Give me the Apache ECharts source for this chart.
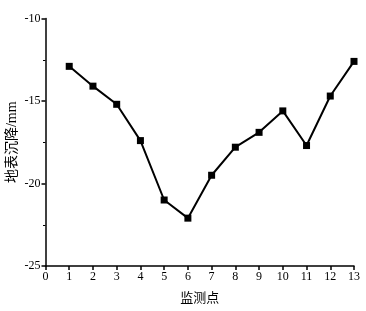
<!DOCTYPE html>
<html>
<head>
<meta charset="utf-8">
<script src="https://cdn.jsdelivr.net/npm/echarts@6/dist/echarts.min.js"></script>
<style>
  html, body { margin: 0; padding: 0; background: #fff; }
  #chart { width: 366px; height: 311px; }
</style>
</head>
<body>
<div id="chart"></div>
<script>
// 监测点编号 and measured settlement (mm)
const points = [1, 2, 3, 4, 5, 6, 7, 8, 9, 10, 11, 12, 13];
const settlement = [-12.9, -14.1, -15.2, -17.4, -21.0, -22.1, -19.5, -17.8, -16.9, -15.6, -17.7, -14.7, -12.6];

const serif = '"Liberation Serif", "Noto Sans CJK SC", serif';

const chart = echarts.init(document.getElementById('chart'));

const option = {
  backgroundColor: '#fff',
  animation: false,
  grid: { left: 45.5, right: 12, top: 18.5, bottom: 45, outerBoundsMode: 'none', containLabel: false },
  xAxis: {
    type: 'value',
    min: 0,
    max: 13,
    interval: 1,
    name: '监测点',
    nameLocation: 'middle',
    nameGap: 26,
    nameMoveOverlap: false,
    nameTextStyle: { color: '#000', fontSize: 13, fontFamily: serif },
    axisLine: { lineStyle: { color: '#000', width: 1.5 } },
    axisTick: { inside: false, length: 4, lineStyle: { color: '#000', width: 1.5 } },
    axisLabel: { color: '#000', fontSize: 12, fontFamily: serif, margin: 5 },
    splitLine: { show: false }
  },
  yAxis: {
    type: 'value',
    min: -25,
    max: -10,
    interval: 5,
    name: '地表沉降/mm',
    nameLocation: 'middle',
    nameGap: 26,
    nameRotate: 90,
    nameMoveOverlap: false,
    nameTextStyle: { color: '#000', fontSize: 14, fontFamily: serif },
    axisLine: { show: true, lineStyle: { color: '#000', width: 1.5 } },
    axisTick: { show: true, length: 4, lineStyle: { color: '#000', width: 1.5 } },
    minorTick: { show: true, splitNumber: 2, length: 2.5, lineStyle: { color: '#000', width: 1 } },
    axisLabel: { color: '#000', fontSize: 12, fontFamily: serif, margin: 5 },
    splitLine: { show: false }
  },
  series: [
    {
      type: 'line',
      data: points.map((p, i) => [p, settlement[i]]),
      symbol: 'rect',
      symbolSize: 7,
      clip: false,
      lineStyle: { color: '#000', width: 2 },
      itemStyle: { color: '#000' }
    }
  ]
};

chart.setOption(option);
</script>
</body>
</html>
